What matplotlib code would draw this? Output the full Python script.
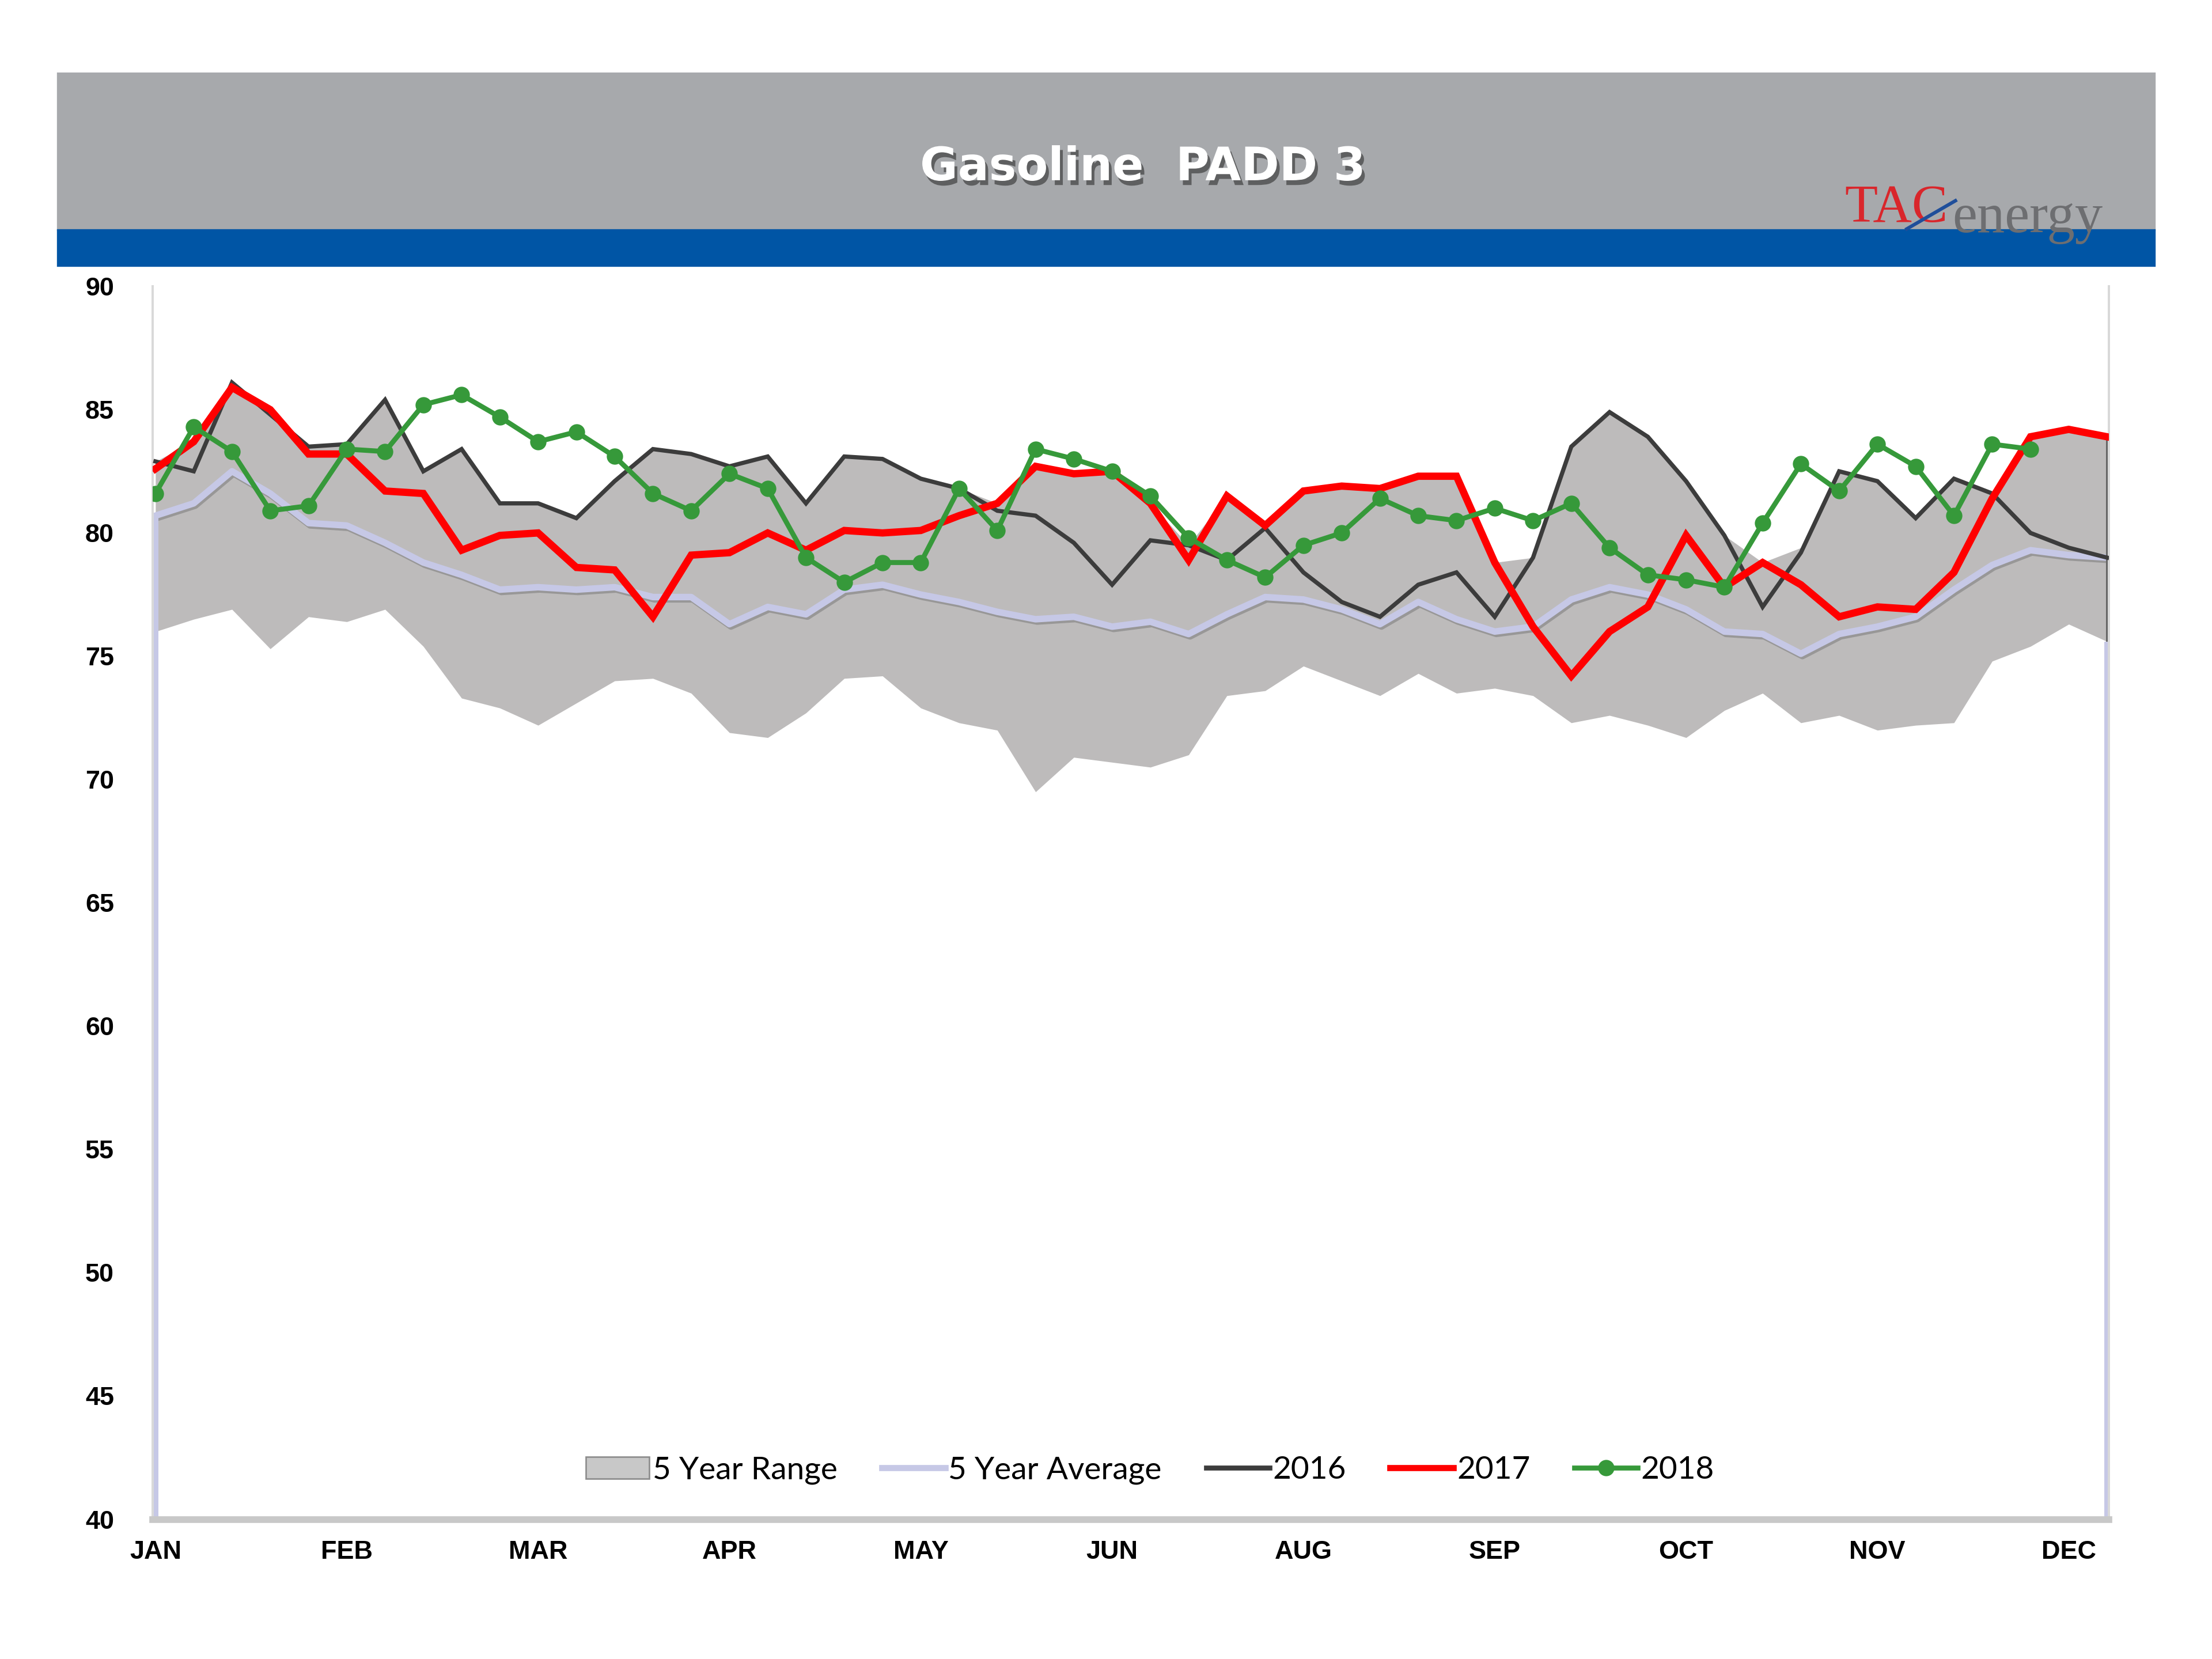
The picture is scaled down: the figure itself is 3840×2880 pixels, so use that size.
import numpy as np
import matplotlib
matplotlib.use("Agg")
import matplotlib.pyplot as plt
import matplotlib.patheffects as pe
from matplotlib.lines import Line2D
from matplotlib.patches import Patch

# weekly values
month_labels = ['JAN', 'FEB', 'MAR', 'APR', 'MAY', 'JUN', 'AUG', 'SEP', 'OCT', 'NOV', 'DEC']

range_low = [76.0, 76.5, 76.9, 75.3, 76.6, 76.4, 76.9, 75.4, 73.3, 72.9,
             72.2, 73.1, 74.0, 74.1, 73.5, 71.9, 71.7, 72.7, 74.1, 74.2,
             72.9, 72.3, 72.0, 69.5, 70.9, 70.7, 70.5, 71.0, 73.4, 73.6,
             74.6, 74.0, 73.4, 74.3, 73.5, 73.7, 73.4, 72.3, 72.6, 72.2,
             71.7, 72.8, 73.5, 72.3, 72.6, 72.0, 72.2, 72.3, 74.8, 75.4,
             76.3, 75.6]
range_high = [82.9, 83.7, 86.1, 85.0, 83.5, 83.6, 85.4, 82.5, 83.4, 81.2,
              81.2, 80.6, 82.1, 83.4, 83.2, 82.7, 83.1, 81.2, 83.1, 83.0,
              82.2, 81.8, 81.2, 82.7, 82.4, 82.5, 81.2, 79.5, 81.5, 80.3,
              81.7, 82.0, 81.8, 82.3, 82.3, 78.8, 79.0, 83.5, 84.9, 83.9,
              82.1, 79.9, 78.8, 79.4, 82.5, 82.1, 80.6, 82.2, 81.6, 83.9,
              84.2, 83.9]
avg5 = [80.7, 81.2, 82.5, 81.6, 80.4, 80.3, 79.6, 78.8, 78.3, 77.7,
        77.8, 77.7, 77.8, 77.4, 77.4, 76.3, 77.0, 76.7, 77.7, 77.9,
        77.5, 77.2, 76.8, 76.5, 76.6, 76.2, 76.4, 75.9, 76.7, 77.4,
        77.3, 76.9, 76.3, 77.2, 76.5, 76.0, 76.2, 77.3, 77.8, 77.5,
        76.9, 76.0, 75.9, 75.1, 75.9, 76.2, 76.6, 77.7, 78.7, 79.3,
        79.1, 79.0]
y2016 = [82.9, 82.5, 86.1, 84.8, 83.5, 83.6, 85.4, 82.5, 83.4, 81.2,
         81.2, 80.6, 82.1, 83.4, 83.2, 82.7, 83.1, 81.2, 83.1, 83.0,
         82.2, 81.8, 80.9, 80.7, 79.6, 77.9, 79.7, 79.5, 78.9, 80.2,
         78.4, 77.2, 76.6, 77.9, 78.4, 76.6, 79.0, 83.5, 84.9, 83.9,
         82.1, 79.9, 77.0, 79.2, 82.5, 82.1, 80.6, 82.2, 81.6, 80.0,
         79.4, 79.0]
y2017 = [82.6, 83.7, 85.9, 85.0, 83.2, 83.2, 81.7, 81.6, 79.3, 79.9,
         80.0, 78.6, 78.5, 76.6, 79.1, 79.2, 80.0, 79.3, 80.1, 80.0,
         80.1, 80.7, 81.2, 82.7, 82.4, 82.5, 81.2, 78.9, 81.5, 80.3,
         81.7, 81.9, 81.8, 82.3, 82.3, 78.8, 76.2, 74.2, 76.0, 77.0,
         79.9, 77.8, 78.8, 77.9, 76.6, 77.0, 76.9, 78.4, 81.4, 83.9,
         84.2, 83.9]
y2018 = [81.6, 84.3, 83.3, 80.9, 81.1, 83.4, 83.3, 85.2, 85.6, 84.7,
         83.7, 84.1, 83.1, 81.6, 80.9, 82.4, 81.8, 79.0, 78.0, 78.8,
         78.8, 81.8, 80.1, 83.4, 83.0, 82.5, 81.5, 79.8, 78.9, 78.2,
         79.5, 80.0, 81.4, 80.7, 80.5, 81.0, 80.5, 81.2, 79.4, 78.3,
         78.1, 77.8, 80.4, 82.8, 81.7, 83.6, 82.7, 80.7, 83.6, 83.4]

weeks = np.arange(len(avg5))
weeks18 = np.arange(len(y2018))

RANGE_C = '#BDBBBB'
AVG_C = '#C6C8E6'
C2016 = '#3C3C3C'
C2017 = '#FF0000'
C2018 = '#36993A'

fig = plt.figure(figsize=(16, 12), dpi=240)
fig.patch.set_facecolor('white')

# header bands
fig.patches.append(plt.Rectangle((0.026, 0.8614), 0.948, 0.0944, transform=fig.transFigure,
                                 color='#A7A9AC', zorder=0))
fig.patches.append(plt.Rectangle((0.026, 0.840), 0.948, 0.0214, transform=fig.transFigure,
                                 color='#0055A5', zorder=0))
fig.text(0.5166, 0.899, 'Gasoline  PADD 3', ha='center', va='center', color='white',
         fontsize=24, fontweight='bold', family='DejaVu Sans',
         path_effects=[pe.SimplePatchShadow(offset=(1.5, -2.5), shadow_rgbFace='#404040', alpha=0.7),
                       pe.Normal()])
fig.text(0.834, 0.874, 'TAC', ha='left', va='center', color='#D9262B', fontsize=28,
         family='Liberation Serif', zorder=5)
fig.text(0.8825, 0.868, 'energy', ha='left', va='center', color='#6D6E71', fontsize=29,
         family='Liberation Serif', zorder=5)
fig.add_artist(Line2D([0.862, 0.884], [0.862, 0.879], transform=fig.transFigure,
                      color='#1F4E9A', lw=1.8, zorder=6))

ax = fig.add_axes([0.0689, 0.0842, 0.8845, 0.7432])
ax.set_facecolor('white')

ax.fill_between(weeks, range_low, range_high, color=RANGE_C, lw=0, zorder=1)
shadow = [pe.SimpleLineShadow(offset=(0.8, -1.2), shadow_color='#555555', alpha=0.35), pe.Normal()]
ax.plot(weeks, avg5, color=AVG_C, lw=3.4, zorder=2, path_effects=shadow, solid_joinstyle='round')
ax.vlines(weeks[0], 40, avg5[0], color=AVG_C, lw=3, zorder=2)
ax.vlines(weeks[-1], range_low[-1], y2017[-1], color='#666666', lw=1.5, zorder=2)
ax.vlines(weeks[-1], 40, range_low[-1], color=AVG_C, lw=3, zorder=2)
ax.plot(weeks, y2016, color=C2016, lw=2.2, zorder=3, solid_joinstyle='miter')
ax.plot(weeks, y2017, color=C2017, lw=3.8, zorder=4, solid_joinstyle='miter')
ax.plot(weeks18, y2018, color=C2018, lw=2.6, marker='o', markersize=7.5, zorder=5)

ax.set_xlim(-0.08, 51.05)
ax.set_ylim(40, 90)
ax.set_yticks(np.arange(40, 91, 5))
ax.set_xticks(np.arange(0, 51, 5))
ax.set_xticklabels(month_labels)
ax.tick_params(length=0)
ax.tick_params(axis='y', pad=20)
ax.tick_params(axis='x', pad=11)
for lab in ax.get_yticklabels() + ax.get_xticklabels():
    lab.set_fontweight('bold')
    lab.set_fontsize(13.5)
    lab.set_family('Liberation Sans')

for s in ['left', 'right']:
    ax.spines[s].set_color('#D9D9D9')
    ax.spines[s].set_linewidth(1.2)
ax.spines['top'].set_visible(False)
ax.spines['bottom'].set_color('#C8C8C8')
ax.spines['bottom'].set_linewidth(3.5)

handles = [
    Patch(facecolor='#C8C8C8', edgecolor='#8C8C8C', lw=0.8),
    Line2D([], [], color=AVG_C, lw=3.2),
    Line2D([], [], color=C2016, lw=2.6),
    Line2D([], [], color=C2017, lw=3.2),
    Line2D([], [], color=C2018, lw=2.6, marker='o', markersize=7.5),
]
leg = ax.legend(handles, ['5 Year Range', '5 Year Average', '2016', '2017', '2018'],
                loc='center', bbox_to_anchor=(0.51, 0.040), ncol=5, frameon=False,
                prop={'family': 'Lato', 'size': 16.5}, handlelength=2.0,
                handletextpad=0.1, columnspacing=1.4)

fig.savefig('out.png', dpi=240, facecolor='white')
